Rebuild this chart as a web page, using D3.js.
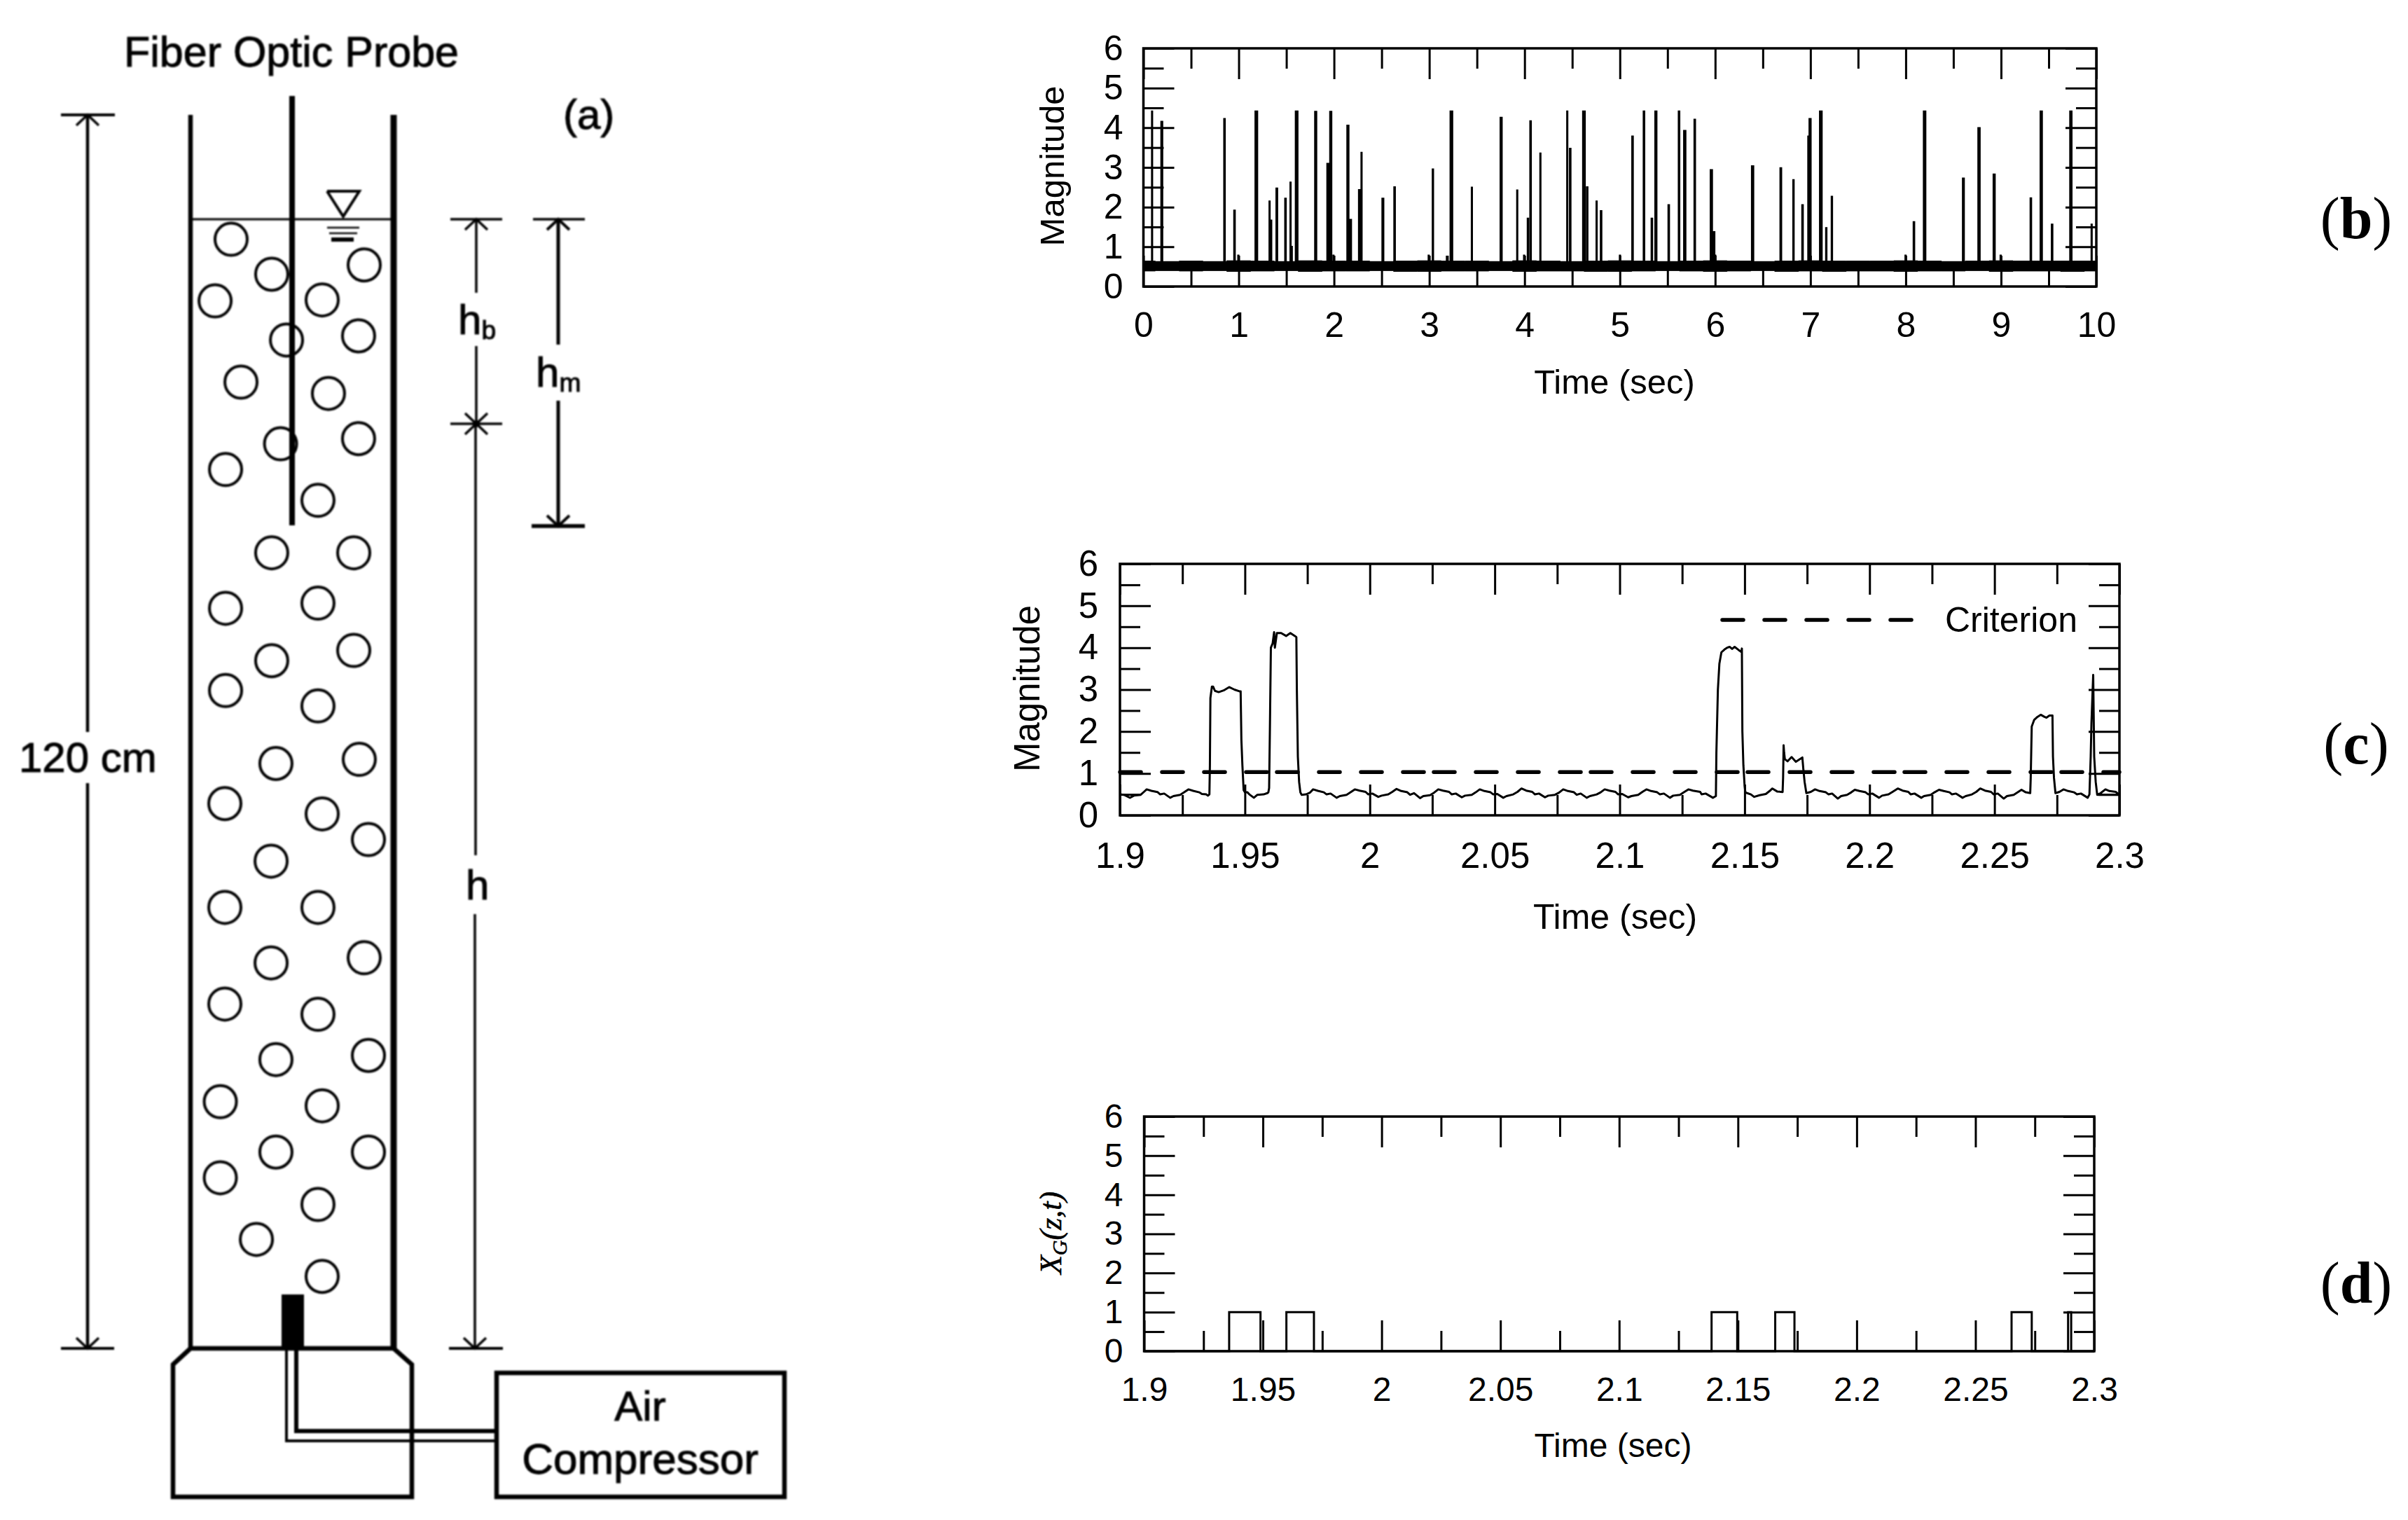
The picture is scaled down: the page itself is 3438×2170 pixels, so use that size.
<!DOCTYPE html>
<html>
<head>
<meta charset="utf-8">
<script src="https://cdn.jsdelivr.net/npm/d3@7"></script>
<style>
  body { margin: 0; background: #fff; }
  text { fill: #000; }
</style>
</head>
<body>
<div id="chart"></div>
<script>
// ---- panel (b) : 10 s record, spikes over the liquid baseline
const xMajorB = [0, 1, 2, 3, 4, 5, 6, 7, 8, 9, 10]
const xMinorB = [0.5, 1.5, 2.5, 3.5, 4.5, 5.5, 6.5, 7.5, 8.5, 9.5]
const yMajor = [0, 1, 2, 3, 4, 5, 6]
const yMinor = [0.5, 1.5, 2.5, 3.5, 4.5, 5.5]

const spikeTime = [0.09, 0.188, 0.848, 0.953, 0.995, 1.176, 1.323, 1.336, 1.396, 1.488, 1.543, 1.556, 1.599, 1.802, 1.93, 1.96, 1.993, 2.14, 2.167, 2.262, 2.288, 2.508, 2.633, 2.993, 3.036, 3.184, 3.223, 3.446, 3.748, 3.922, 3.994, 4.033, 4.06, 4.165, 4.447, 4.476, 4.614, 4.654, 4.755, 4.8, 5.0, 5.13, 5.25, 5.333, 5.372, 5.51, 5.618, 5.674, 5.783, 5.953, 5.98, 6.0, 6.386, 6.685, 6.82, 6.914, 6.977, 6.99, 7.1, 7.164, 7.223, 7.997, 8.083, 8.19, 8.6, 8.762, 8.922, 8.995, 9.31, 9.415, 9.533, 9.726, 9.95]
const spikeMag = [4.41, 4.15, 4.22, 1.91, 0.78, 4.41, 2.14, 1.66, 2.47, 2.21, 2.62, 1.0, 4.41, 4.4, 3.09, 4.4, 0.78, 4.05, 1.68, 2.43, 3.37, 2.21, 2.5, 0.78, 2.95, 0.75, 4.41, 2.49, 4.25, 2.42, 0.78, 1.71, 4.16, 3.35, 4.41, 3.47, 4.41, 2.5, 2.14, 1.9, 0.78, 3.78, 4.41, 1.71, 4.41, 2.05, 4.41, 3.92, 4.2, 2.93, 1.37, 0.78, 3.03, 2.98, 2.68, 2.05, 3.78, 4.22, 4.41, 1.47, 2.26, 0.78, 1.62, 4.41, 2.72, 3.99, 2.82, 0.78, 2.22, 4.41, 1.56, 4.41, 1.56]
const spikeWidth = [0.002, 0.01, 0.006, 0.006, 0.002, 0.018, 0.002, 0.006, 0.008, 0.006, 0.002, 0.002, 0.018, 0.012, 0.014, 0.012, 0.002, 0.012, 0.012, 0.01, 0.002, 0.01, 0.006, 0.002, 0.004, 0.01, 0.018, 0.002, 0.012, 0.002, 0.002, 0.006, 0.006, 0.002, 0.002, 0.006, 0.018, 0.006, 0.002, 0.006, 0.002, 0.006, 0.006, 0.006, 0.012, 0.006, 0.006, 0.014, 0.006, 0.014, 0.012, 0.002, 0.014, 0.008, 0.004, 0.006, 0.008, 0.012, 0.018, 0.004, 0.004, 0.002, 0.006, 0.016, 0.01, 0.014, 0.012, 0.002, 0.006, 0.014, 0.006, 0.014, 0.002]

const bandTime = [0, 0.25, 0.5, 0.75, 1, 1.25, 1.5, 1.75, 2, 2.25, 2.5, 2.75, 3, 3.25, 3.5, 3.75, 4, 4.25, 4.5, 4.75, 5, 5.25, 5.5, 5.75, 6, 6.25, 6.5, 6.75, 7, 7.25, 7.5, 7.75, 8, 8.25, 8.5, 8.75, 9, 9.25, 9.5, 9.75, 10]
const bandLow = [0.39, 0.4, 0.39, 0.4, 0.38, 0.39, 0.4, 0.38, 0.39, 0.39, 0.4, 0.38, 0.38, 0.39, 0.39, 0.4, 0.38, 0.39, 0.39, 0.38, 0.38, 0.39, 0.4, 0.39, 0.38, 0.39, 0.4, 0.38, 0.39, 0.38, 0.39, 0.39, 0.38, 0.39, 0.39, 0.4, 0.38, 0.39, 0.39, 0.38, 0.39]
const bandHigh = [0.64, 0.63, 0.64, 0.63, 0.65, 0.64, 0.63, 0.65, 0.64, 0.64, 0.63, 0.64, 0.65, 0.64, 0.64, 0.63, 0.65, 0.64, 0.63, 0.64, 0.65, 0.64, 0.63, 0.64, 0.65, 0.64, 0.63, 0.64, 0.65, 0.64, 0.64, 0.64, 0.65, 0.64, 0.63, 0.64, 0.65, 0.64, 0.64, 0.64, 0.64]

// ---- panels (c) and (d) : zoom on 1.9 - 2.3 s
const xMajorC = [1.9, 1.95, 2, 2.05, 2.1, 2.15, 2.2, 2.25, 2.3]
const xMinorC = [1.925, 1.975, 2.025, 2.075, 2.125, 2.175, 2.225, 2.275]
const criterion = [1.03, 1.03]
const criterionTime = [1.9, 2.3]

const traceC = [
  [1.9000, 0.50], [1.9016, 0.49], [1.9040, 0.42], [1.9056, 0.47], [1.9083, 0.49], [1.9096, 0.56],
  [1.9107, 0.62], [1.9126, 0.585], [1.9150, 0.557], [1.9161, 0.50], [1.9177, 0.52], [1.9201, 0.42], [1.9214, 0.46], [1.9241, 0.49], [1.9257, 0.55],
  [1.9274, 0.62], [1.9293, 0.585], [1.9317, 0.55], [1.9328, 0.51], [1.9345, 0.50], [1.9352, 0.47], [1.9358, 0.50],
  [1.9360, 1.2], [1.9362, 2.8], [1.9368, 3.07], [1.9373, 3.07], [1.9380, 2.97], [1.9395, 2.94], [1.9415, 2.98], [1.9437, 3.06], [1.9458, 3.0], [1.9478, 2.96], [1.9483, 2.96],
  [1.9486, 1.8], [1.9490, 1.2], [1.9495, 0.6], [1.9500, 0.55], [1.9510, 0.55], [1.9518, 0.5], [1.9536, 0.42], [1.9550, 0.49], [1.9575, 0.5], [1.9590, 0.53], [1.9594, 0.55],
  [1.9597, 0.65], [1.9600, 2.0], [1.9604, 4.0], [1.9611, 4.1], [1.9617, 4.37], [1.9620, 4.0], [1.9628, 4.35], [1.9645, 4.35], [1.9665, 4.28], [1.9682, 4.35], [1.9700, 4.28], [1.9706, 4.25],
  [1.9708, 3.0], [1.9712, 1.4], [1.9717, 0.8], [1.9722, 0.55], [1.9727, 0.49], [1.9745, 0.50], [1.9760, 0.54],
  [1.9773, 0.62], [1.9792, 0.585], [1.9816, 0.55], [1.9827, 0.50], [1.9843, 0.52], [1.9867, 0.42], [1.9880, 0.46], [1.9907, 0.49], [1.9923, 0.55],
  [1.9940, 0.62], [1.9959, 0.59], [1.9983, 0.56], [1.9994, 0.50], [2.0010, 0.52], [2.0034, 0.44], [2.0047, 0.47], [2.0074, 0.50], [2.0090, 0.56],
  [2.0107, 0.63], [2.0126, 0.58], [2.0150, 0.55], [2.0161, 0.49], [2.0177, 0.53], [2.0201, 0.41], [2.0214, 0.46], [2.0241, 0.48], [2.0257, 0.54],
  [2.0274, 0.62], [2.0293, 0.59], [2.0317, 0.56], [2.0328, 0.50], [2.0344, 0.52], [2.0368, 0.43], [2.0381, 0.47], [2.0408, 0.49], [2.0424, 0.55],
  [2.0440, 0.62], [2.0459, 0.58], [2.0483, 0.55], [2.0494, 0.50], [2.0510, 0.51], [2.0534, 0.42], [2.0547, 0.46], [2.0574, 0.50], [2.0591, 0.56],
  [2.0607, 0.64], [2.0626, 0.59], [2.0650, 0.56], [2.0661, 0.50], [2.0677, 0.52], [2.0701, 0.43], [2.0714, 0.47], [2.0741, 0.49], [2.0757, 0.54],
  [2.0774, 0.62], [2.0793, 0.58], [2.0817, 0.55], [2.0828, 0.49], [2.0844, 0.52], [2.0868, 0.42], [2.0881, 0.46], [2.0908, 0.50], [2.0924, 0.55],
  [2.0940, 0.62], [2.0959, 0.59], [2.0983, 0.56], [2.0994, 0.50], [2.1010, 0.51], [2.1034, 0.43], [2.1047, 0.46], [2.1074, 0.49], [2.1091, 0.56],
  [2.1107, 0.62], [2.1126, 0.58], [2.1150, 0.55], [2.1161, 0.50], [2.1177, 0.52], [2.1201, 0.42], [2.1214, 0.47], [2.1241, 0.49], [2.1257, 0.55],
  [2.1275, 0.62], [2.1293, 0.59], [2.1322, 0.56], [2.1328, 0.50], [2.1344, 0.52], [2.1373, 0.42], [2.1385, 0.46],
  [2.1387, 1.5], [2.1389, 2.0], [2.1393, 3.0], [2.1399, 3.62], [2.1407, 3.89], [2.1420, 3.96], [2.1430, 4.0], [2.1440, 4.02], [2.1450, 3.97], [2.1460, 4.02], [2.1475, 3.95], [2.1487, 3.9], [2.1489, 3.98],
  [2.1491, 2.0], [2.1495, 1.2], [2.1500, 0.7], [2.1503, 0.55], [2.1510, 0.53], [2.1525, 0.5], [2.1538, 0.44], [2.1560, 0.48], [2.1585, 0.51], [2.1600, 0.58],
  [2.1611, 0.64], [2.1630, 0.57], [2.1652, 0.557], [2.1654, 0.9], [2.1656, 1.67], [2.1658, 1.5], [2.1661, 1.34], [2.1672, 1.29], [2.1688, 1.39], [2.1705, 1.28], [2.1731, 1.38],
  [2.1735, 1.1], [2.1740, 0.8], [2.1747, 0.53], [2.1765, 0.56], [2.1782, 0.62], [2.1800, 0.58], [2.1825, 0.55], [2.1836, 0.50], [2.1850, 0.52], [2.1873, 0.40], [2.1886, 0.46], [2.1910, 0.49], [2.1927, 0.55],
  [2.1941, 0.61], [2.1960, 0.58], [2.1984, 0.55], [2.1995, 0.50], [2.2011, 0.52], [2.2038, 0.42], [2.2050, 0.47], [2.2076, 0.50], [2.2092, 0.56],
  [2.2113, 0.64], [2.2132, 0.59], [2.2155, 0.56], [2.2165, 0.50], [2.2180, 0.52], [2.2207, 0.42], [2.2218, 0.46], [2.2245, 0.49], [2.2260, 0.55],
  [2.2278, 0.61], [2.2297, 0.58], [2.2320, 0.55], [2.2330, 0.50], [2.2346, 0.52], [2.2372, 0.42], [2.2385, 0.46], [2.2410, 0.50], [2.2427, 0.56],
  [2.2443, 0.64], [2.2462, 0.59], [2.2486, 0.56], [2.2497, 0.50], [2.2513, 0.52], [2.2537, 0.40], [2.2550, 0.46], [2.2577, 0.49], [2.2593, 0.55],
  [2.2608, 0.61], [2.2625, 0.55], [2.2643, 0.53], [2.2645, 0.9], [2.2649, 2.12], [2.2659, 2.28], [2.2672, 2.35], [2.2685, 2.4], [2.2700, 2.35], [2.2708, 2.33], [2.2720, 2.38], [2.2732, 2.38],
  [2.2734, 1.4], [2.2738, 0.9], [2.2744, 0.53], [2.2760, 0.56], [2.2776, 0.62], [2.2795, 0.58], [2.2818, 0.55], [2.2830, 0.50], [2.2846, 0.52], [2.2873, 0.42], [2.2880, 0.50],
  [2.2885, 1.4], [2.2888, 2.2], [2.2895, 3.35], [2.2899, 1.4], [2.2905, 0.8], [2.2911, 0.49], [2.2925, 0.53], [2.2944, 0.62], [2.2960, 0.58], [2.2985, 0.56], [2.3000, 0.49], [2.2914, 0.49]
]

const dTime = [1.9, 1.9358, 1.9358, 1.949, 1.949, 1.9599, 1.9599, 1.9715, 1.9715, 2.1389, 2.1389, 2.1497, 2.1497, 2.1657, 2.1657, 2.1738, 2.1738, 2.2652, 2.2652, 2.2737, 2.2737, 2.289, 2.289, 2.2903, 2.2903, 2.3]
const dVal = [0, 0, 1, 1, 0, 0, 1, 1, 0, 0, 1, 1, 0, 0, 1, 1, 0, 0, 1, 1, 0, 0, 1, 1, 0, 0]

// ---- panel (a) : bubble column, in cm across the column and above its bottom
const bubbleAcross = [3.95, 16.9, 7.9, 2.39, 12.81, 9.34, 16.35, 4.91, 13.42, 8.76, 16.35, 3.41, 12.4, 7.9, 15.88, 3.41, 12.4, 15.88, 7.9, 3.41, 12.4, 8.31, 16.42, 3.34, 12.81, 17.31, 7.84, 3.34, 12.4, 7.84, 16.9, 3.34, 12.4, 8.31, 17.31, 2.9, 12.81, 8.31, 17.31, 2.9, 12.4, 6.41, 12.81]
const bubbleHeight = [107.9, 105.4, 104.5, 101.9, 102, 98.1, 98.5, 94, 92.9, 88, 88.5, 85.5, 82.5, 77.4, 77.4, 72, 72.5, 67.9, 66.9, 64, 62.5, 56.9, 57.3, 53, 52, 49.5, 47.4, 42.9, 42.9, 37.5, 38, 33.5, 32.5, 28.1, 28.5, 24, 23.6, 19.1, 19.1, 16.6, 14, 10.6, 7]

const W = 3438, H = 2170
const arial = '"Liberation Sans", Arial, sans-serif'
const times = '"Liberation Serif", "Times New Roman", serif'

const svg = d3.select('#chart').append('svg')
    .attr('width', W)
    .attr('height', H)
    .attr('viewBox', [0, 0, W, H])
    .style('display', 'block')

const defs = svg.append('defs')
defs.append('filter').attr('id', 'soft')
    .append('feGaussianBlur').attr('stdDeviation', 1.3)

// frame with ticks on all four sides, labels on left and bottom
function panel(box, xDomain, xMajor, xMinor, padBottom, padLeft, tickFont) {
    const g = svg.append('g').attr('transform', `translate(${box.x},${box.y})`)
    const x = d3.scaleLinear().domain(xDomain).range([0, box.w])
    const y = d3.scaleLinear().domain([0, 6]).range([box.h, 0])

    const styleAxis = s => {
        s.select('.domain').remove()
        s.selectAll('line').attr('stroke-width', 3)
        s.attr('font-size', tickFont).attr('font-family', arial)
    }

    g.append('g').attr('transform', `translate(0,${box.h})`)
        .call(d3.axisBottom(x).tickValues(xMajor).tickSize(-44).tickPadding(padBottom).tickFormat(d => d))
        .call(styleAxis)
    g.append('g').attr('transform', `translate(0,${box.h})`)
        .call(d3.axisBottom(x).tickValues(xMinor).tickSize(-29).tickFormat(''))
        .call(styleAxis)
    g.append('g')
        .call(d3.axisTop(x).tickValues(xMajor).tickSize(-44).tickFormat(''))
        .call(styleAxis)
    g.append('g')
        .call(d3.axisTop(x).tickValues(xMinor).tickSize(-29).tickFormat(''))
        .call(styleAxis)
    g.append('g')
        .call(d3.axisLeft(y).tickValues(yMajor).tickSize(-44).tickPadding(padLeft).tickFormat(d => d))
        .call(styleAxis)
    g.append('g')
        .call(d3.axisLeft(y).tickValues(yMinor).tickSize(-29).tickFormat(''))
        .call(styleAxis)
    g.append('g').attr('transform', `translate(${box.w},0)`)
        .call(d3.axisRight(y).tickValues(yMajor).tickSize(-44).tickFormat(''))
        .call(styleAxis)
    g.append('g').attr('transform', `translate(${box.w},0)`)
        .call(d3.axisRight(y).tickValues(yMinor).tickSize(-29).tickFormat(''))
        .call(styleAxis)

    return { g, x, y, box }
}

function frame(p) {
    p.g.append('rect')
        .attr('width', p.box.w)
        .attr('height', p.box.h)
        .attr('fill', 'none')
        .attr('stroke', '#000')
        .attr('stroke-width', 3.5)
}

function label(txt, px, py, size, rotate) {
    return svg.append('text')
        .attr('transform', `translate(${px},${py})` + (rotate ? ' rotate(-90)' : ''))
        .attr('text-anchor', 'middle')
        .attr('font-family', arial)
        .attr('font-size', size)
        .text(txt)
}

// (b)
const pb = panel({ x: 1632.5, y: 69, w: 1360.5, h: 340 }, [0, 10], xMajorB, xMinorB, 36.5, 29, 50)

pb.g.selectAll('path.spike')
    .data(spikeTime)
    .join('path')
    .attr('class', 'spike')
    .attr('fill', 'none')
    .attr('stroke', '#000')
    .attr('stroke-width', 2.8)
    .attr('d', (t, i) => d3.line().x(d => pb.x(d[0])).y(d => pb.y(d[1]))([
        [t, 0.5], [t, spikeMag[i]], [t + spikeWidth[i], spikeMag[i]], [t + spikeWidth[i], 0.5]
    ]))

pb.g.append('path')
    .attr('fill', '#000')
    .attr('stroke', '#000')
    .attr('stroke-width', 1)
    .attr('d', d3.area()
        .curve(d3.curveStep)
        .x(d => pb.x(d))
        .y0((d, i) => pb.y(bandLow[i]))
        .y1((d, i) => pb.y(bandHigh[i]))(bandTime))
frame(pb)
label('Time (sec)', 2305, 562, 49)
label('Magnitude', 1519, 237, 49, true)

// (c)
const pc = panel({ x: 1599, y: 805, w: 1427, h: 359 }, [1.9, 2.3], xMajorC, xMinorC, 38.8, 31, 51)

pc.g.append('path')
    .attr('fill', 'none')
    .attr('stroke', '#000')
    .attr('stroke-width', 3)
    .attr('stroke-linejoin', 'round')
    .attr('d', d3.line().x(d => pc.x(d[0])).y(d => pc.y(d[1]))(traceC))

pc.g.append('path')
    .attr('fill', 'none')
    .attr('stroke', '#000')
    .attr('stroke-width', 5.5)
    .attr('stroke-linecap', 'round')
    .attr('stroke-dasharray', '30 30 30 30 30 30 30 14')
    .attr('d', d3.line().x(d => pc.x(d)).y((d, i) => pc.y(criterion[i]))(criterionTime))
frame(pc)

svg.append('line')
    .attr('x1', 2459).attr('x2', 2733)
    .attr('y1', 885).attr('y2', 885)
    .attr('stroke', '#000')
    .attr('stroke-width', 5.5)
    .attr('stroke-linecap', 'round')
    .attr('stroke-dasharray', '30 30')
svg.append('text')
    .attr('x', 2777).attr('y', 902)
    .attr('font-family', arial)
    .attr('font-size', 50)
    .text('Criterion')
label('Time (sec)', 2306, 1326, 50)
label('Magnitude', 1484, 983, 51, true)

// (d)
const pd = panel({ x: 1633.5, y: 1594, w: 1356.5, h: 335 }, [1.9, 2.3], xMajorC, xMinorC, 37, 30, 48)

pd.g.append('path')
    .attr('fill', 'none')
    .attr('stroke', '#000')
    .attr('stroke-width', 3)
    .attr('d', d3.line().x(d => pd.x(d)).y((d, i) => pd.y(dVal[i]))(dTime))
frame(pd)
label('Time (sec)', 2303, 2080, 48)

const yLab = svg.append('text')
    .attr('transform', 'translate(1515,1760) rotate(-90)')
    .attr('text-anchor', 'middle')
    .attr('font-family', times)
    .attr('font-style', 'italic')
    .attr('font-size', 44)
    .attr('stroke', '#000')
    .attr('stroke-width', 0.6)
yLab.append('tspan').text('X')
yLab.append('tspan').attr('font-size', 30).attr('dy', 8).text('G')
yLab.append('tspan').attr('dy', -8).text('(z,t)')

// panel letters
const panelLetters = ['b', 'c', 'd']
const panelBaseline = [340, 1090, 1860]
panelLetters.forEach((l, i) => {
    const t = svg.append('text')
        .attr('x', 3364).attr('y', panelBaseline[i])
        .attr('text-anchor', 'middle')
        .attr('font-family', times)
        .attr('font-size', 84)
    t.append('tspan').text('(')
    t.append('tspan').attr('font-weight', 'bold').text(l)
    t.append('tspan').text(')')
})

// (a) schematic, slightly soft like the scanned original
const sk = svg.append('g').attr('filter', 'url(#soft)')
const pxPerCm = (1925 - 164) / 120
const acrossScale = d3.scaleLinear().domain([0, 20]).range([272, 272 + 20 * pxPerCm])
const heightScale = d3.scaleLinear().domain([0, 120]).range([1925, 164])

function seg(x1, y1, x2, y2, w) {
    sk.append('line')
        .attr('x1', x1).attr('y1', y1)
        .attr('x2', x2).attr('y2', y2)
        .attr('stroke', '#000')
        .attr('stroke-width', w)
}
function poly(points, w) {
    sk.append('path')
        .attr('d', d3.line()(points))
        .attr('fill', 'none')
        .attr('stroke', '#000')
        .attr('stroke-width', w)
}
function head(x, y, dir, w) {
    poly([[x - 16, y + dir * 15], [x, y], [x + 16, y + dir * 15]], w)
}
function skText(txt, x, y, size, sub) {
    const t = sk.append('text')
        .attr('x', x).attr('y', y)
        .attr('font-family', arial)
        .attr('font-size', size)
        .attr('stroke', '#000')
        .attr('stroke-width', 1)
        .text(txt)
    if (sub) t.append('tspan').attr('font-size', size * 0.62).attr('dy', 7).text(sub)
    return t
}

// walls, probe, water level
seg(272, 164, 272, 1925, 6.5)
seg(562, 164, 562, 1925, 9)
seg(417, 137, 417, 750, 8)
seg(272, 313, 562, 313, 3)

poly([[467, 273], [513, 273], [490, 309], [467, 273]], 4)
seg(467, 325, 513, 325, 2.5)
seg(470, 333, 510, 333, 2.5)
seg(473, 342, 505, 342, 6)

sk.selectAll('circle')
    .data(bubbleAcross)
    .join('circle')
    .attr('cx', d => acrossScale(d))
    .attr('cy', (d, i) => heightScale(bubbleHeight[i]))
    .attr('r', 23)
    .attr('fill', 'none')
    .attr('stroke', '#000')
    .attr('stroke-width', 4)

// plenum and air line
poly([[272, 1925], [247, 1948], [247, 2137], [588, 2137], [588, 1948], [562, 1925], [272, 1925]], 6.5)
sk.append('rect').attr('x', 402).attr('y', 1848).attr('width', 32).attr('height', 77).attr('fill', '#000')
poly([[409, 1925], [409, 2057], [709, 2057]], 4)
poly([[423, 1925], [423, 2043], [709, 2043]], 6)

sk.append('rect')
    .attr('x', 709).attr('y', 1960)
    .attr('width', 411).attr('height', 177)
    .attr('fill', 'none')
    .attr('stroke', '#000')
    .attr('stroke-width', 6.5)
skText('Air', 914, 2028, 60).attr('text-anchor', 'middle')
skText('Compressor', 914, 2104, 62).attr('text-anchor', 'middle')

// dimension lines
seg(125, 164, 125, 1045, 4.5)
seg(125, 1118, 125, 1925, 4.5)
seg(87, 164, 164, 164, 4)
seg(87, 1925, 163, 1925, 4)
head(125, 164, 1, 3.5)
head(125, 1925, -1, 3.5)
skText('120 cm', 27, 1102, 60)

seg(680, 313, 680, 418, 3.5)
seg(680, 494, 680, 605, 3.5)
seg(679, 605, 679, 1221, 3.5)
seg(678, 1305, 678, 1925, 3.5)
seg(643, 313, 717, 313, 3.5)
seg(643, 605, 717, 605, 3.5)
seg(641, 1925, 718, 1925, 4)
head(680, 313, 1, 3.5)
head(680, 605, -1, 3.5)
head(680, 605, 1, 3.5)
head(678, 1925, -1, 3.5)
sk.append('circle').attr('cx', 680).attr('cy', 605).attr('r', 5).attr('fill', '#000')

seg(797, 313, 797, 492, 5)
seg(797, 572, 797, 751, 5)
seg(761, 313, 835, 313, 3.5)
seg(759, 751, 835, 751, 5.5)
head(797, 313, 1, 4)
head(797, 751, -1, 4)

skText('h', 654, 477, 60, 'b')
skText('h', 765, 552, 60, 'm')
skText('h', 665, 1284, 60)
skText('(a)', 804, 184, 60)
skText('Fiber Optic Probe', 177, 95, 61)
</script>
</body>
</html>
